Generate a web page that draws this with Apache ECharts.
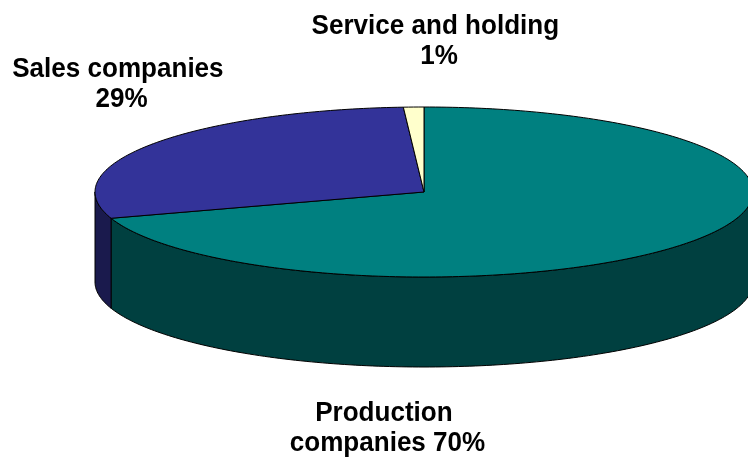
<!DOCTYPE html>
<html>
<head>
<meta charset="utf-8">
<script src="https://cdn.jsdelivr.net/npm/echarts@6/dist/echarts.min.js"></script>
<style>
  html, body { margin: 0; padding: 0; background: #ffffff; }
  #chart { width: 748px; height: 461px; }
</style>
</head>
<body>
<div id="chart"></div>
<script>
// Share of companies by type (percent)
const categories = ['Production companies', 'Sales companies', 'Service and holding'];
const shares = [70, 29, 1];

// Face colours: lit top and shaded outer wall for each slice
const topColors = ['#008080', '#333399', '#FFFFCC'];
const wallColors = ['#004040', '#1A1A4D', '#808066'];

// Tilted disc geometry (pixels)
const DISC = { cx: 424, cy: 192, rx: 329, ry: 85, depth: 90 };

// Label boxes: centre x, top y, wrap width (before the horizontal squeeze)
const labelBoxes = [
  { x: 387.5, y: 398.6, w: 240 },
  { x: 121.5, y: 54.9, w: 265 },
  { x: 439, y: 11.3, w: 280 }
];

const total = shares.reduce((s, v) => s + v, 0);
const startShares = [];
shares.reduce((acc, v) => { startShares.push(acc); return acc + v; }, 0);

// Point on the rim; angle in degrees clockwise from 12 o'clock
function rimPoint(deg, drop) {
  const t = deg * Math.PI / 180;
  return [DISC.cx + DISC.rx * Math.sin(t), DISC.cy - DISC.ry * Math.cos(t) + (drop || 0)];
}
function rimArc(a, b, drop) {
  const n = Math.max(2, Math.ceil(Math.abs(b - a)));
  const pts = [];
  for (let i = 0; i <= n; i++) pts.push(rimPoint(a + (b - a) * i / n, drop));
  return pts;
}

const edge = { stroke: '#000000', lineWidth: 1, lineJoin: 'round' };

function renderSlice(params, api) {
  const idx = api.value(0);
  const a0 = api.value(1) / total * 360;
  const a1 = (api.value(1) + api.value(2)) / total * 360;
  const children = [];

  // Outer wall: only the front half of the rim (90..270 deg) faces the viewer
  const w0 = Math.max(a0, 90), w1 = Math.min(a1, 270);
  if (w1 > w0) {
    const top = rimArc(w0, w1, 0);
    const bottom = rimArc(w1, w0, DISC.depth);
    children.push({
      type: 'polygon',
      z2: 1,
      shape: { points: top.concat(bottom) },
      style: Object.assign({ fill: wallColors[idx] }, edge)
    });
  }

  // Top face: wedge from the hub to the rim
  const face = [[DISC.cx, DISC.cy]].concat(rimArc(a0, a1, 0));
  children.push({
    type: 'polygon',
    z2: 2,
    shape: { points: face },
    style: Object.assign({ fill: topColors[idx] }, edge)
  });

  return { type: 'group', children: children };
}

const sliceData = shares.map((v, i) => [i, startShares[i], v]);

const labelGraphics = categories.map((name, i) => ({
  type: 'text',
  x: labelBoxes[i].x,
  y: labelBoxes[i].y,
  scaleX: 0.965,
  z: 10,
  style: {
    text: name + ' ' + shares[i] + '%',
    width: labelBoxes[i].w,
    overflow: 'break',
    align: 'center',
    verticalAlign: 'top',
    font: 'bold 27px "Liberation Sans", Arial, sans-serif',
    lineHeight: 30,
    fill: '#000000'
  }
}));

const chart = echarts.init(document.getElementById('chart'), null, { renderer: 'canvas' });
chart.setOption({
  animation: false,
  backgroundColor: '#ffffff',
  series: [{
    type: 'custom',
    coordinateSystem: 'none',
    renderItem: renderSlice,
    data: sliceData,
    silent: true
  }],
  graphic: labelGraphics
});
</script>
</body>
</html>
